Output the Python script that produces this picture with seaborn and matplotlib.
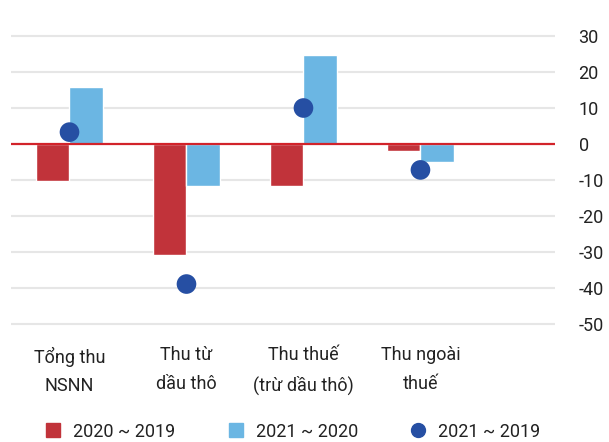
import numpy as np
import pandas as pd
import matplotlib
matplotlib.use("Agg")
import matplotlib.pyplot as plt
from matplotlib.lines import Line2D
import seaborn as sns

categories = ["Tổng thu\nNSNN", "Thu từ\ndầu thô", "Thu thuế\n(trừ dầu thô)", "Thu ngoài\nthuế"]
s2020_2019 = [-10.3, -30.8, -11.7, -1.9]
s2021_2020 = [15.8, -11.7, 24.7, -5.0]
s2021_2019 = [3.3, -38.9, 10.0, -7.2]
series_names = ["2020 ~ 2019", "2021 ~ 2020", "2021 ~ 2019"]
yticks = [30, 20, 10, 0, -10, -20, -30, -40, -50]

RED = "#c1333a"
LBLUE = "#6bb6e3"
DBLUE = "#264fa3"

sns.set_theme(style="white")
plt.rcParams['font.family'] = ['Roboto', 'DejaVu Sans']

df = pd.DataFrame({
    "cat": categories * 2,
    "val": s2020_2019 + s2021_2020,
    "series": [series_names[0]] * 4 + [series_names[1]] * 4,
})
dots = pd.DataFrame({"cat": categories, "val": s2021_2019})

W, H = 609, 442
fig = plt.figure(figsize=(W / 100, H / 100), dpi=100)
ax = fig.add_axes([11 / W, (H - 331.2) / H, (555 - 11) / W, 302.4 / H])

for y in yticks:
    if y != 0:
        ax.axhline(y, color="#e6e6e6", lw=1.5, zorder=0)

sns.barplot(data=df, x="cat", y="val", hue="series", order=categories,
            hue_order=series_names[:2], palette=[RED, LBLUE], width=0.57,
            saturation=1, ax=ax, legend=False, zorder=2)
ax.axhline(0, color="#d2232a", lw=1.6, zorder=3)
sns.scatterplot(data=dots, x="cat", y="val", color=DBLUE, s=200,
                edgecolor="none", ax=ax, zorder=4, legend=False)

ax.set_xlim(-0.5, 4.15)
ax.set_ylim(-52, 32)
ax.set_yticks(yticks)
ax.set_yticklabels([str(v) for v in yticks], fontsize=13, color="#222222")
ax.yaxis.tick_right()
ax.tick_params(axis="y", length=0, pad=17)
ax.set_xticks(range(len(categories)))
ax.set_xticklabels(categories, fontsize=13, color="#222222", linespacing=1.75)
ax.tick_params(axis="x", length=0, pad=11)
ax.set_xlabel("")
ax.set_ylabel("")
for sp in ax.spines.values():
    sp.set_visible(False)

handles = [
    Line2D([], [], marker="s", ls="none", color=RED, markersize=9.5),
    Line2D([], [], marker="s", ls="none", color=LBLUE, markersize=9.5),
    Line2D([], [], marker="o", ls="none", color=DBLUE, markersize=10),
]
fig.legend(handles, series_names, ncol=3, loc="lower left",
           bbox_to_anchor=(28 / W, -15 / H), frameon=False, fontsize=13,
           handlelength=1.0, handletextpad=0.6, columnspacing=2.85,
           labelcolor="#222222")

fig.savefig("out.png", dpi=100, facecolor="white")
